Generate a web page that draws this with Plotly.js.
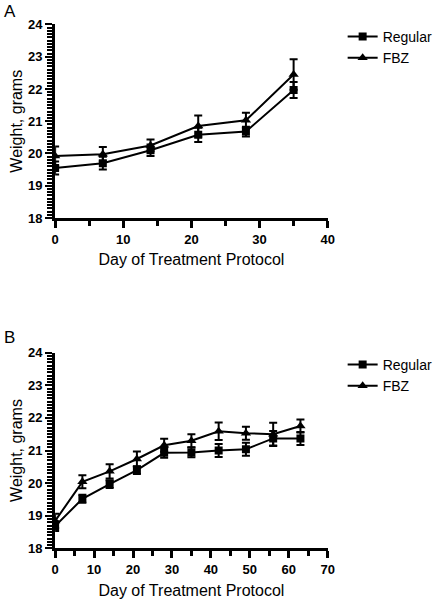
<!DOCTYPE html>
<html>
<head>
<meta charset="utf-8">
<script src="https://cdn.plot.ly/plotly-3.0.1.min.js"></script>
<style>html,body{margin:0;padding:0;background:#fff}#chart{width:438px;height:599px}</style>
</head>
<body>
<div id="chart"></div>
<script>
// Panel A
const daysA = [0, 7, 14, 21, 28, 35];
const regularA = [19.55, 19.70, 20.10, 20.58, 20.68, 21.97];
const regularErrA = [0.20, 0.20, 0.18, 0.22, 0.15, 0.25];
const fbzA = [19.92, 19.98, 20.25, 20.85, 21.03, 22.45];
const fbzErrA = [0.30, 0.22, 0.18, 0.33, 0.23, 0.47];
// Panel B
const daysB = [0, 7, 14, 21, 28, 35, 42, 49, 56, 63];
const regularB = [18.68, 19.52, 19.97, 20.40, 20.93, 20.94, 21.00, 21.04, 21.37, 21.37];
const regularErrB = [0.15, 0.12, 0.12, 0.12, 0.15, 0.15, 0.20, 0.20, 0.23, 0.20];
const fbzB = [18.84, 20.04, 20.36, 20.74, 21.16, 21.30, 21.59, 21.53, 21.50, 21.75];
const fbzErrB = [0.22, 0.20, 0.22, 0.23, 0.20, 0.20, 0.27, 0.20, 0.35, 0.20];
const seriesNames = ["Regular", "FBZ"];
const panelLabels = ["A", "B"];

const font = "Arial";
function trace(x, y, e, name, sym, xa, ya, leg) {
  return {
    x: x, y: y, name: name, type: "scatter", mode: "lines+markers",
    xaxis: xa, yaxis: ya, legend: leg,
    line: {color: "#000", width: 2},
    marker: {symbol: sym, color: "#000", size: sym === "square" ? 8 : 9},
    error_y: {type: "data", array: e, visible: true, color: "#000", thickness: 2, width: 4}
  };
}
const data = [
  trace(daysA, regularA, regularErrA, seriesNames[0], "square", "x", "y", "legend"),
  trace(daysA, fbzA, fbzErrA, seriesNames[1], "triangle-up", "x", "y", "legend"),
  trace(daysB, regularB, regularErrB, seriesNames[0], "square", "x2", "y2", "legend2"),
  trace(daysB, fbzB, fbzErrB, seriesNames[1], "triangle-up", "x2", "y2", "legend2")
];
function xaxis(dom, max, anchor) {
  return {
    domain: dom, range: [0, max], anchor: anchor, dtick: 10, tick0: 0,
    showline: true, linecolor: "#000", linewidth: 3, showgrid: false, zeroline: false,
    ticks: "outside", ticklen: 7, tickwidth: 3, tickcolor: "#000",
    tickfont: {family: font, size: 13, color: "#000", weight: 900},
    minor: {dtick: 5, ticks: "outside", ticklen: 5, tickwidth: 3, tickcolor: "#000"},
    title: {text: "Day of Treatment Protocol", font: {family: font, size: 16, color: "#000"}, standoff: 9},
    fixedrange: true
  };
}
function yaxis(dom, anchor) {
  return {
    domain: dom, range: [18, 24], anchor: anchor, dtick: 1, tick0: 18,
    showline: true, linecolor: "#000", linewidth: 3, showgrid: false, zeroline: false,
    ticks: "outside", ticklen: 7, tickwidth: 2, tickcolor: "#000",
    tickfont: {family: font, size: 13, color: "#000", weight: 900},
    minor: {dtick: 0.1, ticks: "outside", ticklen: 5, tickwidth: 1.5, tickcolor: "#000"},
    title: {text: "Weight, grams", font: {family: font, size: 16, color: "#000"}, standoff: 2},
    fixedrange: true
  };
}
const legendStyle = {
  x: 0.795, xanchor: "left", bgcolor: "rgba(0,0,0,0)", borderwidth: 0,
  font: {family: font, size: 14, color: "#000"}, tracegroupgap: 0, itemwidth: 30
};
const domX = [0.1279, 0.7603], domYA = [0.6361, 0.9591], domYB = [0.0846, 0.4112];
const layout = {
  width: 438, height: 599,
  margin: {l: 0, r: 0, t: 0, b: 0},
  paper_bgcolor: "#fff", plot_bgcolor: "#fff",
  showlegend: true,
  xaxis: xaxis(domX, 40, "y"),
  yaxis: yaxis(domYA, "x"),
  xaxis2: xaxis(domX, 70, "y2"),
  yaxis2: yaxis(domYB, "x2"),
  legend: Object.assign({}, legendStyle, {y: 0.965, yanchor: "top"}),
  legend2: Object.assign({}, legendStyle, {y: 0.4175, yanchor: "top"}),
  annotations: [
    {text: panelLabels[0], xref: "paper", yref: "paper", x: 0.005, y: 1.0, xanchor: "left", yanchor: "top", showarrow: false, font: {family: font, size: 17, color: "#000"}},
    {text: panelLabels[1], xref: "paper", yref: "paper", x: 0.005, y: 0.455, xanchor: "left", yanchor: "top", showarrow: false, font: {family: font, size: 17, color: "#000"}}
  ]
};
Plotly.newPlot("chart", data, layout, {displayModeBar: false});
</script>
</body>
</html>
